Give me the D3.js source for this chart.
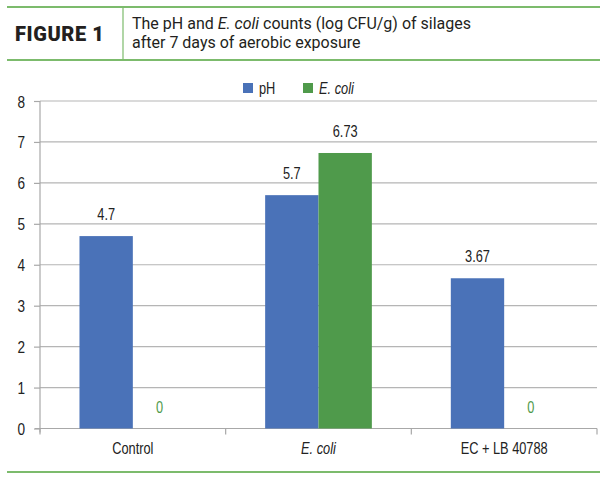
<!DOCTYPE html>
<html><head><meta charset="utf-8">
<script src="https://cdn.jsdelivr.net/npm/d3@7"></script>
<style>
body{margin:0;background:#fff;}
svg{display:block;}
</style></head>
<body>
<script>
const categories = ["Control", "E. coli", "EC + LB 40788"];
const seriesNames = ["pH", "E. coli"];
const phValues = [4.7, 5.7, 3.67];
const ecoliValues = [0, 6.73, 0];
const yTicks = [0, 1, 2, 3, 4, 5, 6, 7, 8];
const valueLabels = [["4.7", "5.7", "3.67"], ["0", "6.73", "0"]];

const W = 610, H = 487;
const blue = "#4a72b8", green = "#4f9a4b", lineGreen = "#7cbb6c";
const FONT = "'Liberation Sans', Arial, sans-serif";
const SX = 0.8; // horizontal condensing to imitate a narrow face
const FS = 16;

const svg = d3.select("body").append("svg").attr("width", W).attr("height", H);

function ntext(parent, x, y, str, opts = {}) {
  return parent.append("text")
    .attr("transform", `translate(${x},${y}) scale(${SX},1)`)
    .attr("text-anchor", opts.anchor || "start")
    .attr("font-family", FONT).attr("font-size", opts.size || FS)
    .attr("font-style", opts.italic ? "italic" : "normal")
    .attr("fill", opts.fill || "#222")
    .text(str);
}

// header
svg.append("line").attr("x1", 7).attr("x2", 600).attr("y1", 7).attr("y2", 7).attr("stroke", lineGreen).attr("stroke-width", 2);
svg.append("line").attr("x1", 7).attr("x2", 600).attr("y1", 60).attr("y2", 60).attr("stroke", lineGreen).attr("stroke-width", 2);
svg.append("line").attr("x1", 123).attr("x2", 123).attr("y1", 7).attr("y2", 60).attr("stroke", lineGreen).attr("stroke-width", 1.2);
svg.append("text").attr("x", 15).attr("y", 41).attr("font-family", "Roboto, sans-serif").attr("font-weight", 900)
  .attr("font-size", 20).attr("letter-spacing", 0.6).attr("fill", "#231f20").text("FIGURE 1");
const t1 = svg.append("text").attr("x", 132).attr("y", 29).attr("font-family", "Roboto, sans-serif").attr("font-size", 16).attr("fill", "#231f20");
t1.append("tspan").text("The pH and ");
t1.append("tspan").attr("font-style", "italic").text("E. coli");
t1.append("tspan").text(" counts (log CFU/g) of silages");
svg.append("text").attr("x", 132).attr("y", 48).attr("font-family", "Roboto, sans-serif").attr("font-size", 16).attr("fill", "#231f20")
  .text("after 7 days of aerobic exposure");
svg.append("line").attr("x1", 7).attr("x2", 600).attr("y1", 472).attr("y2", 472).attr("stroke", lineGreen).attr("stroke-width", 2);

// chart scales
const x0 = d3.scaleBand().domain(categories).range([40, 597]).paddingInner(0).paddingOuter(0);
const x1 = d3.scaleBand().domain(seriesNames).range([0, x0.bandwidth()]).paddingInner(0).paddingOuter(0.74);
const y = d3.scaleLinear().domain([0, 8]).range([428.5, 101]);

// gridlines
svg.append("g").selectAll("line").data(yTicks.filter(d => d > 0)).join("line")
  .attr("x1", 40).attr("x2", 597).attr("y1", d => y(d)).attr("y2", d => y(d))
  .attr("stroke", "#b5b5b5").attr("stroke-width", 1.2);

// y axis
const ya = svg.append("g").attr("transform", "translate(40,0)")
  .call(d3.axisLeft(y).tickValues(yTicks).tickSize(6).tickFormat(() => ""));
ya.select(".domain").attr("stroke", "#a8a8a8").attr("stroke-width", 1.2).attr("d", "M0," + y(8) + "V" + (y(0) + 4));
ya.selectAll(".tick line").attr("stroke", "#a8a8a8").attr("stroke-width", 1.2);
ya.selectAll(".tick").each(function(d) {
  ntext(d3.select(this), -15, 6, d3.format("d")(d), {anchor: "end", size: 17});
});

// x axis
const xa = svg.append("g").attr("transform", "translate(0," + y(0) + ")")
  .call(d3.axisBottom(x0).tickSize(0).tickFormat(() => ""));
xa.select(".domain").attr("stroke", "#a8a8a8").attr("stroke-width", 1.2).attr("d", "M35,0H597");
xa.selectAll(".tick").each(function(d) {
  ntext(d3.select(this), 0, 25.5, d, {anchor: "middle", italic: d === "E. coli"});
});
const bounds = [40].concat(categories.map(c => x0(c) + x0.bandwidth()));
xa.append("g").selectAll("line").data(bounds).join("line")
  .attr("x1", d => d).attr("x2", d => d).attr("y1", 0).attr("y2", 6)
  .attr("stroke", "#a8a8a8").attr("stroke-width", 1.2);

// bars + value labels
const series = [phValues, ecoliValues];
const colors = [blue, green];
series.forEach((vals, si) => {
  const g = svg.append("g");
  g.selectAll("rect").data(vals).join("rect")
    .attr("x", (d, i) => x0(categories[i]) + x1(seriesNames[si]))
    .attr("width", x1.bandwidth())
    .attr("y", d => y(d))
    .attr("height", d => y(0) - y(d))
    .attr("fill", colors[si]);
  vals.forEach((d, i) => {
    ntext(g, x0(categories[i]) + x1(seriesNames[si]) + x1.bandwidth() / 2, y(d) - 16,
      valueLabels[si][i], {anchor: "middle", fill: d === 0 ? green : "#222"});
  });
});

// legend
const leg = svg.append("g");
const legItems = [{n: "pH", x: 243, c: blue, it: false}, {n: "E. coli", x: 303, c: green, it: true}];
legItems.forEach(li => {
  leg.append("rect").attr("x", li.x).attr("y", 83).attr("width", 10).attr("height", 10).attr("fill", li.c);
  ntext(leg, li.x + 16, 94, li.n, {italic: li.it});
});
</script>
</body></html>
